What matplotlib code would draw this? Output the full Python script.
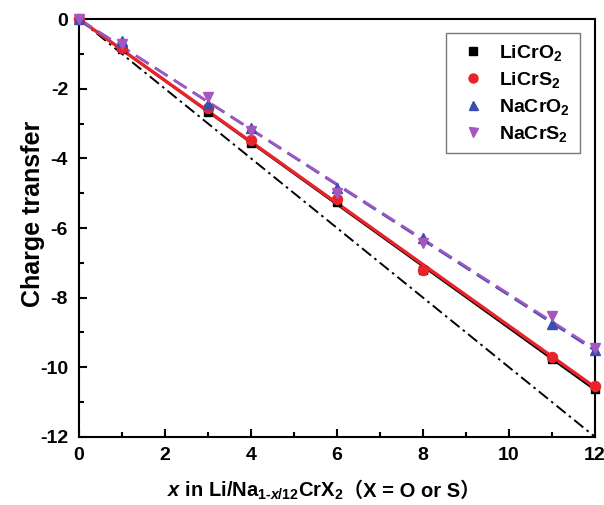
import numpy as np
import matplotlib
matplotlib.use("Agg")
import matplotlib.pyplot as plt

plt.rcParams['font.family'] = ['Liberation Sans', 'Noto Sans CJK SC', 'DejaVu Sans']
plt.rcParams['font.weight'] = 'bold'
plt.rcParams['axes.unicode_minus'] = False
plt.rcParams['mathtext.fontset'] = 'custom'
plt.rcParams['mathtext.rm'] = 'Liberation Sans:bold'
plt.rcParams['mathtext.it'] = 'Liberation Sans:bold:italic'
plt.rcParams['mathtext.bf'] = 'Liberation Sans:bold'
plt.rcParams['mathtext.default'] = 'rm'

# Li / Na content x and computed charge transfer
x = [0, 1, 3, 4, 6, 8, 11, 12]
licro2 = [0, -0.85, -2.67, -3.56, -5.25, -7.22, -9.75, -10.62]
licrs2 = [0, -0.83, -2.55, -3.47, -5.18, -7.20, -9.72, -10.55]
nacro2 = [0, -0.62, -2.45, -3.13, -4.85, -6.30, -8.75, -9.50]
nacrs2 = [0, -0.70, -2.25, -3.20, -5.00, -6.42, -8.52, -9.45]

series = [
    (r'LiCrO$_2$', licro2, 's', '#000000', '-', 1.6, 8),
    (r'LiCrS$_2$', licrs2, 'o', '#e8232a', '-', 2.4, 9),
    (r'NaCrO$_2$', nacro2, '^', '#3a4db0', (0, (6, 3)), 1.8, 9),
    (r'NaCrS$_2$', nacrs2, 'v', '#a556c0', (0, (6, 3)), 1.8, 9),
]

fig = plt.figure(figsize=(6.04, 5.05), dpi=100)
ax = fig.add_axes([0.131, 0.135, 0.854, 0.827])

xs = np.array(x, dtype=float)
xfit = np.array([0.0, 12.0])
# ideal one-electron-per-ion reference line
ax.plot(xfit, -xfit, color='black', lw=1.4, linestyle=(0, (6, 2.2, 1.3, 2.2)), zorder=1)

for label, ys, mk, col, ls, lw, ms in series:
    ys = np.array(ys)
    slope = np.sum(xs * ys) / np.sum(xs * xs)
    ax.plot(xfit, slope * xfit, color=col, lw=lw, linestyle=ls, zorder=2)
for label, ys, mk, col, ls, lw, ms in series:
    ax.plot(x, ys, linestyle='none', marker=mk, color=col, markersize=ms * 0.8,
            label=label, zorder=3, clip_on=False)

ax.set_xlim(0, 12)
ax.set_ylim(-12, 0)
ax.set_xticks(range(0, 13, 2))
ax.set_xticks(range(1, 12, 2), minor=True)
ax.set_yticks(range(-12, 1, 2))
ax.set_yticks(range(-11, 0, 2), minor=True)
ax.tick_params(which='both', direction='in', top=False, right=False, width=1.5,
               labelsize=14)
ax.tick_params(which='major', length=6)
ax.tick_params(which='minor', length=3.5)
ax.tick_params(axis='x', pad=7)
ax.tick_params(axis='y', pad=8)
for lab in ax.get_xticklabels() + ax.get_yticklabels():
    lab.set_fontweight('bold')
for sp in ax.spines.values():
    sp.set_linewidth(1.5)

ax.set_ylabel('Charge transfer', fontsize=18, fontweight='bold')
ax.yaxis.set_label_coords(-0.066, 0.535)

# x-axis title: formula part in mathtext, bracket part as plain text
fig.text(343 / 604, 1 - 497 / 505,
         r'$\mathit{x}$ in Li/Na$_{\text{1-}\mathit{x}\text{/12}}$CrX$_2$',
         ha='right', va='baseline', fontsize=14.5, fontweight='bold')
fig.text(343 / 604, 1 - 497 / 505, '（X = O or S）', ha='left', va='baseline',
         fontsize=14.5, fontweight='bold')

leg = ax.legend(loc='upper right', bbox_to_anchor=(0.971, 0.966), borderaxespad=0,
                fontsize=14, frameon=True, fancybox=False, edgecolor='#555555',
                handletextpad=0.45, labelspacing=0.35, borderpad=0.5,
                handlelength=1.8, markerscale=0.9, numpoints=1)
leg.get_frame().set_linewidth(1.0)

fig.savefig('out.png', dpi=100)
